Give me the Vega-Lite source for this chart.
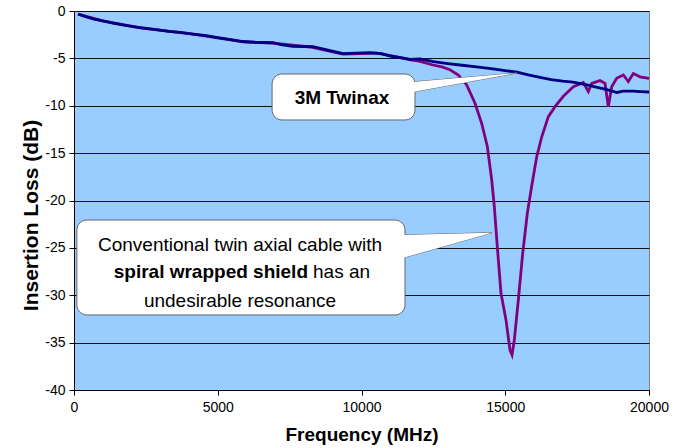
{
  "$schema": "https://vega.github.io/schema/vega-lite/v6.json",
  "width": 575,
  "height": 379,
  "autosize": "none",
  "padding": {"left": 74, "top": 11, "right": 28, "bottom": 58},
  "background": "white",
  "config": {
    "view": {"fill": "#99CCFF", "stroke": "#7f7f7f", "strokeWidth": 1},
    "font": "Liberation Sans"
  },
  "datasets": {
    "curves": [
      {"s": "conv", "f": 140, "v": -0.32}, {"s": "conv", "f": 1000, "v": -1.05}, {"s": "conv", "f": 2300, "v": -1.78}, {"s": "conv", "f": 4139, "v": -2.45}, {"s": "conv", "f": 5878, "v": -3.25}, {"s": "conv", "f": 6922, "v": -3.4}, {"s": "conv", "f": 8209, "v": -3.8}, {"s": "conv", "f": 9357, "v": -4.55}, {"s": "conv", "f": 10539, "v": -4.45}, {"s": "conv", "f": 11400, "v": -4.95},
      {"s": "conv", "f": 11700, "v": -5.15}, {"s": "conv", "f": 12000, "v": -5.3}, {"s": "conv", "f": 12487, "v": -5.7}, {"s": "conv", "f": 12800, "v": -5.9}, {"s": "conv", "f": 13078, "v": -6.2}, {"s": "conv", "f": 13368, "v": -6.75}, {"s": "conv", "f": 13658, "v": -7.8}, {"s": "conv", "f": 13948, "v": -9.74}, {"s": "conv", "f": 14180, "v": -11.85}, {"s": "conv", "f": 14377, "v": -14.3}, {"s": "conv", "f": 14528, "v": -17.8}, {"s": "conv", "f": 14620, "v": -20.65}, {"s": "conv", "f": 14724, "v": -24.9}, {"s": "conv", "f": 14852, "v": -29.8}, {"s": "conv", "f": 15026, "v": -32.6}, {"s": "conv", "f": 15165, "v": -35.8}, {"s": "conv", "f": 15235, "v": -36.3}, {"s": "conv", "f": 15316, "v": -34.7}, {"s": "conv", "f": 15455, "v": -30.5}, {"s": "conv", "f": 15606, "v": -25.6}, {"s": "conv", "f": 15768, "v": -21.35}, {"s": "conv", "f": 15919, "v": -18.5}, {"s": "conv", "f": 16093, "v": -15.4}, {"s": "conv", "f": 16267, "v": -13.3}, {"s": "conv", "f": 16499, "v": -11.15}, {"s": "conv", "f": 16731, "v": -10.1}, {"s": "conv", "f": 17021, "v": -9.0}, {"s": "conv", "f": 17369, "v": -8.0}, {"s": "conv", "f": 17716, "v": -7.55}, {"s": "conv", "f": 17890, "v": -8.5}, {"s": "conv", "f": 18006, "v": -7.65}, {"s": "conv", "f": 18296, "v": -7.35}, {"s": "conv", "f": 18470, "v": -7.65}, {"s": "conv", "f": 18586, "v": -10.1}, {"s": "conv", "f": 18702, "v": -8.0}, {"s": "conv", "f": 18876, "v": -7.1}, {"s": "conv", "f": 19108, "v": -6.75}, {"s": "conv", "f": 19281, "v": -7.45}, {"s": "conv", "f": 19455, "v": -6.6}, {"s": "conv", "f": 19687, "v": -6.95}, {"s": "conv", "f": 20000, "v": -7.1},
      {"s": "twinax", "f": 140, "v": -0.32}, {"s": "twinax", "f": 400, "v": -0.6}, {"s": "twinax", "f": 700, "v": -0.85}, {"s": "twinax", "f": 1000, "v": -1.05}, {"s": "twinax", "f": 1400, "v": -1.3}, {"s": "twinax", "f": 1843, "v": -1.55}, {"s": "twinax", "f": 2300, "v": -1.75}, {"s": "twinax", "f": 2800, "v": -1.95}, {"s": "twinax", "f": 3300, "v": -2.15}, {"s": "twinax", "f": 3700, "v": -2.25}, {"s": "twinax", "f": 4139, "v": -2.43}, {"s": "twinax", "f": 4600, "v": -2.6}, {"s": "twinax", "f": 5000, "v": -2.8}, {"s": "twinax", "f": 5400, "v": -3.0}, {"s": "twinax", "f": 5878, "v": -3.22}, {"s": "twinax", "f": 6300, "v": -3.3}, {"s": "twinax", "f": 6922, "v": -3.35}, {"s": "twinax", "f": 7200, "v": -3.55}, {"s": "twinax", "f": 7600, "v": -3.72}, {"s": "twinax", "f": 8000, "v": -3.75}, {"s": "twinax", "f": 8313, "v": -3.76}, {"s": "twinax", "f": 8800, "v": -4.1}, {"s": "twinax", "f": 9357, "v": -4.5}, {"s": "twinax", "f": 9800, "v": -4.45}, {"s": "twinax", "f": 10300, "v": -4.4}, {"s": "twinax", "f": 10700, "v": -4.5}, {"s": "twinax", "f": 11000, "v": -4.75}, {"s": "twinax", "f": 11400, "v": -4.95}, {"s": "twinax", "f": 11700, "v": -5.1}, {"s": "twinax", "f": 12035, "v": -5.05}, {"s": "twinax", "f": 12500, "v": -5.35}, {"s": "twinax", "f": 13000, "v": -5.55}, {"s": "twinax", "f": 13426, "v": -5.7}, {"s": "twinax", "f": 14000, "v": -5.9}, {"s": "twinax", "f": 14574, "v": -6.1}, {"s": "twinax", "f": 15000, "v": -6.3}, {"s": "twinax", "f": 15409, "v": -6.45}, {"s": "twinax", "f": 15800, "v": -6.75}, {"s": "twinax", "f": 16209, "v": -7.0}, {"s": "twinax", "f": 16600, "v": -7.25}, {"s": "twinax", "f": 17000, "v": -7.4}, {"s": "twinax", "f": 17357, "v": -7.5}, {"s": "twinax", "f": 17843, "v": -7.8}, {"s": "twinax", "f": 18200, "v": -8.05}, {"s": "twinax", "f": 18539, "v": -8.3}, {"s": "twinax", "f": 18887, "v": -8.6}, {"s": "twinax", "f": 19100, "v": -8.45}, {"s": "twinax", "f": 19443, "v": -8.45}, {"s": "twinax", "f": 19700, "v": -8.5}, {"s": "twinax", "f": 20000, "v": -8.55}
    ],
    "boxes": [
      {"id": "a", "f": 6890, "f2": 11860, "v": -6.65, "v2": -11.5},
      {"id": "b", "f": 100, "f2": 11513, "v": -22.06, "v2": -32.08}
    ],
    "tails": [
      {"id": "a", "f": 11780, "v": -7.49, "v2": -8.55},
      {"id": "a", "f": 15409, "v": -6.54, "v2": -6.54},
      {"id": "b", "f": 11430, "v": -23.64, "v2": -26.07},
      {"id": "b", "f": 14539, "v": -23.4, "v2": -23.4}
    ],
    "labels": [
      {"f": 9322, "v": -9.82, "t": "3M Twinax", "w": "bold"},
      {"f": 5774, "v": -25.33, "t": "Conventional twin axial cable with", "w": "normal"},
      {"f": 5774, "v": -31.24, "t": "undesirable resonance", "w": "normal"}
    ],
    "mixed": [
      {"f": 8139, "v": -28.18, "b": "spiral wrapped shield", "n": "has an"}
    ]
  },
  "layer": [
    {
      "data": {"name": "curves"},
      "transform": [{"filter": "datum.s === 'conv'"}],
      "mark": {"type": "line", "color": "#800080", "strokeWidth": 2.8},
      "encoding": {
        "x": {"field": "f", "type": "quantitative", "scale": {"domain": [0, 20000], "nice": false},
          "axis": {"title": "Frequency (MHz)", "values": [0, 5000, 10000, 15000, 20000], "labelExpr": "'' + datum.value", "grid": false, "domainColor": "#000", "tickColor": "#000", "tickSize": 5, "labelFontSize": 14, "labelColor": "#000", "labelPadding": 5, "labelFlush": false, "titleFontSize": 19, "titleFontWeight": "bold", "titleColor": "#000", "titlePadding": 11}},
        "y": {"field": "v", "type": "quantitative", "scale": {"domain": [-40, 0], "nice": false},
          "axis": {"title": "Insertion Loss (dB)", "values": [-40, -35, -30, -25, -20, -15, -10, -5, 0], "labelExpr": "'' + datum.value", "grid": true, "gridColor": "#111", "gridWidth": 1, "domainColor": "#000", "tickColor": "#000", "tickSize": 5, "labelFontSize": 14, "labelColor": "#000", "labelPadding": 4, "titleFontSize": 21, "titleFontWeight": "bold", "titleColor": "#000", "titlePadding": 3, "titleY": 204}}
      }
    },
    {
      "data": {"name": "curves"},
      "transform": [{"filter": "datum.s === 'twinax'"}],
      "mark": {"type": "line", "color": "#000080", "strokeWidth": 2.8},
      "encoding": {
        "x": {"field": "f", "type": "quantitative"},
        "y": {"field": "v", "type": "quantitative"}
      }
    },
    {
      "data": {"name": "tails"},
      "mark": {"type": "area", "fill": "white", "stroke": "#666", "strokeWidth": 1, "opacity": 1},
      "encoding": {
        "detail": {"field": "id"},
        "x": {"field": "f", "type": "quantitative"},
        "y": {"field": "v", "type": "quantitative"},
        "y2": {"field": "v2"}
      }
    },
    {
      "data": {"name": "boxes"},
      "mark": {"type": "rect", "fill": "white", "stroke": "#666", "strokeWidth": 1, "cornerRadius": 10},
      "encoding": {
        "x": {"field": "f", "type": "quantitative"},
        "x2": {"field": "f2"},
        "y": {"field": "v", "type": "quantitative"},
        "y2": {"field": "v2"}
      }
    },
    {
      "data": {"name": "tails"},
      "mark": {"type": "area", "fill": "white", "opacity": 1},
      "encoding": {
        "detail": {"field": "id"},
        "x": {"field": "f", "type": "quantitative"},
        "y": {"field": "v", "type": "quantitative"},
        "y2": {"field": "v2"}
      }
    },
    {
      "data": {"name": "labels"},
      "transform": [{"filter": "datum.w === 'bold'"}],
      "mark": {"type": "text", "fontSize": 19, "fontWeight": "bold", "align": "center", "baseline": "alphabetic", "color": "#000"},
      "encoding": {
        "x": {"field": "f", "type": "quantitative"},
        "y": {"field": "v", "type": "quantitative"},
        "text": {"field": "t"}
      }
    },
    {
      "data": {"name": "labels"},
      "transform": [{"filter": "datum.w === 'normal'"}],
      "mark": {"type": "text", "fontSize": 19, "align": "center", "baseline": "alphabetic", "color": "#000"},
      "encoding": {
        "x": {"field": "f", "type": "quantitative"},
        "y": {"field": "v", "type": "quantitative"},
        "text": {"field": "t"}
      }
    },
    {
      "data": {"name": "mixed"},
      "mark": {"type": "text", "fontSize": 19, "fontWeight": "bold", "align": "right", "baseline": "alphabetic", "color": "#000"},
      "encoding": {
        "x": {"field": "f", "type": "quantitative"},
        "y": {"field": "v", "type": "quantitative"},
        "text": {"field": "b"}
      }
    },
    {
      "data": {"name": "mixed"},
      "mark": {"type": "text", "fontSize": 19, "align": "left", "baseline": "alphabetic", "color": "#000", "dx": 5},
      "encoding": {
        "x": {"field": "f", "type": "quantitative"},
        "y": {"field": "v", "type": "quantitative"},
        "text": {"field": "n"}
      }
    }
  ]
}
